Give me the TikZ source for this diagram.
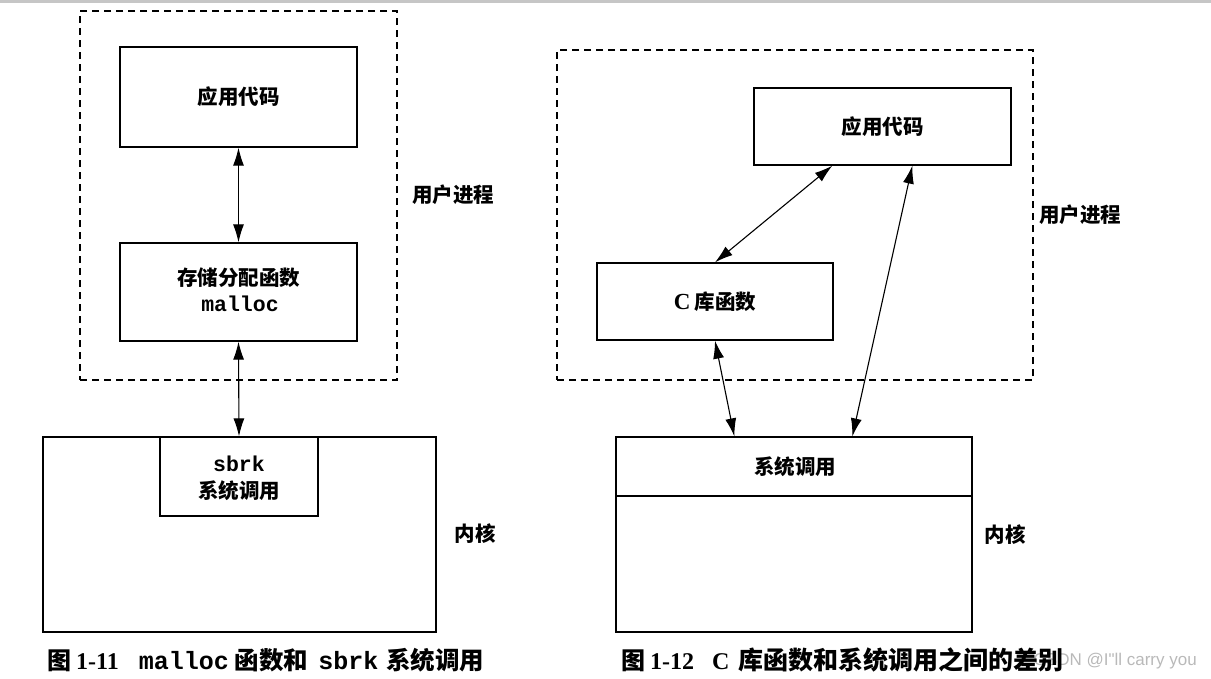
\documentclass[tikz,border=0pt]{standalone}
\usepackage{fontspec}
\setmainfont{Liberation Serif}
\setmonofont{Liberation Mono}
\newfontfamily\cjk{Noto Sans CJK SC}
\newfontfamily\wmfont{Liberation Sans}
\usetikzlibrary{arrows.meta,calc}
\tikzset{
  box/.style={draw, line width=1.3pt, inner sep=0pt},
  dashbox/.style={draw, line width=1.1pt, dash pattern=on 7pt off 5pt, inner sep=0pt},
  link/.style={line width=1.1pt, {Latex[length=18pt,width=11pt]}-{Latex[length=18pt,width=11pt]}},
  lbl/.style={font=\cjk\bfseries\fontsize{20.5}{22}\selectfont, inner sep=0pt, align=center},
  code/.style={inner sep=0pt, anchor=base, font=\ttfamily\bfseries\fontsize{21.5}{24}\selectfont},
  captext/.style={anchor=base west, inner sep=0pt, font=\bfseries\fontsize{24}{26}\selectfont},
}
\begin{document}
\begin{tikzpicture}[x=1pt,y=-1pt]
\useasboundingbox (0,0) rectangle (1211,678);
\fill[gray!45] (0,0) rectangle (1211,3);
% ---------- left figure ----------
\node[dashbox, minimum width=317pt, minimum height=369pt] (dashL) at (238.5,195.5) {};
\node[box, minimum width=237pt, minimum height=100pt] (appL) at (238.5,97) {};
\node[lbl] at (appL.center) {应用代码};
\node[box, minimum width=237pt, minimum height=98pt] (mallocL) at (238.5,292) {};
\node[lbl, anchor=base] at (238.5,285) {存储分配函数};
\node[code] at (240,311) {malloc};
\node[box, minimum width=393pt, minimum height=195pt] (kernL) at (239.5,534.5) {};
\node[box, minimum width=158pt, minimum height=79pt] (sbrk) at (239,476.5) {};
\node[code] at (239,471) {sbrk};
\node[lbl, anchor=base] at (239,498) {系统调用};
\draw[link] (appL.south) -- (mallocL.north);
\draw[link] (mallocL.south) -- (sbrk.north);
\node[lbl] (userL) at (453,195) {用户进程};
\node[lbl] (kernlabL) at (475,534) {内核};
% ---------- right figure ----------
\node[dashbox, minimum width=476pt, minimum height=330pt] (dashR) at (795,215) {};
\node[box, minimum width=257pt, minimum height=77pt] (appR) at (882.5,126.5) {};
\node[lbl] at (appR.center) {应用代码};
\node[box, minimum width=236pt, minimum height=77pt] (clib) at (715,301.5) {};
\node[lbl] at (clib.center) {{\rmfamily\fontsize{23}{24}\selectfont C}\hspace{4pt}库函数};
\node[box, minimum width=356pt, minimum height=195pt] (kernR) at (794,534.5) {};
\coordinate (divW) at (616,496);
\coordinate (divE) at (972,496);
\draw[line width=1.1pt] (divW) -- (divE);
\node[lbl] (sys) at (795,467) {系统调用};
\coordinate (a1) at ($(appR.south west)+(79,0)$);
\coordinate (a2) at ($(appR.south west)+(159,0)$);
\coordinate (k1) at ($(kernR.north west)+(119,0)$);
\coordinate (k2) at ($(kernR.north west)+(237,0)$);
\draw[link] (a1) -- (clib.north);
\draw[link] (clib.south) -- (k1);
\draw[link] (a2) -- (k2);
\node[lbl] (userR) at (1080,215) {用户进程};
\node[lbl] (kernlabR) at (1005,535) {内核};
% ---------- captions ----------
\node[anchor=base east, inner sep=0pt, text=gray!55, font=\wmfont\fontsize{17}{20}\selectfont] (wm) at (1197,665) {CSDN @I"ll carry you};
\node[captext] (capL) at (47,669) {{\cjk 图}\hspace{5pt}1-11\hspace{20pt}{\ttfamily\fontsize{25}{26}\selectfont malloc}\hspace{6pt}{\cjk\fontsize{24.5}{26}\selectfont 函数和}\hspace{10pt}{\ttfamily\fontsize{25}{26}\selectfont sbrk}\hspace{8pt}{\cjk\fontsize{24.5}{26}\selectfont 系统调用}};
\node[captext] (capR) at (621,669) {{\cjk 图}\hspace{5pt}1-12\hspace{18pt}C\hspace{9pt}{\cjk\fontsize{25}{26}\selectfont 库函数和系统调用之间的差别}};
\end{tikzpicture}
\end{document}
